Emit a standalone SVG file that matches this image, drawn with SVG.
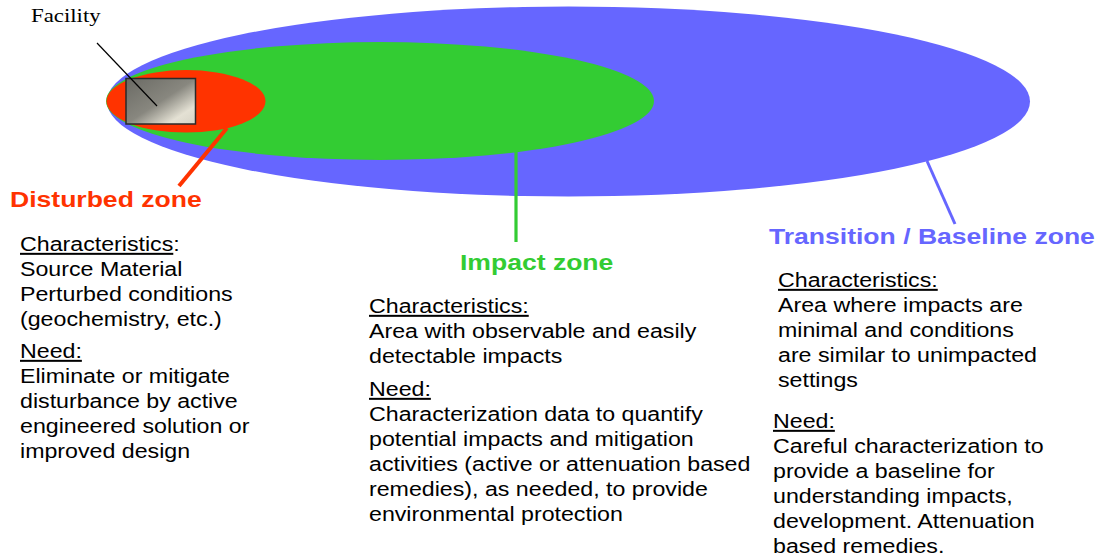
<svg xmlns="http://www.w3.org/2000/svg" width="1098" height="558" viewBox="0 0 1098 558">
<style>
.body{font-family:"Liberation Sans",Arial,sans-serif;font-size:20px;fill:#000}
.title{font-family:"Liberation Sans",Arial,sans-serif;font-size:22.5px;font-weight:bold}
.u{text-decoration:underline}
.lead{fill:none;stroke-linecap:butt}
</style>
<defs>
<linearGradient id="fac" x1="0" y1="0" x2="1" y2="1">
<stop offset="0" stop-color="#6a6a64"/>
<stop offset="0.5" stop-color="#88877f"/>
<stop offset="0.8" stop-color="#e4e1d4"/>
<stop offset="1" stop-color="#d6d3c6"/>
</linearGradient>
</defs>
<rect width="1098" height="558" fill="#fff"/>
<g id="transition-zone">
<ellipse cx="568.5" cy="101.5" rx="461.5" ry="95" fill="#6666ff"/>
</g>
<g id="impact-zone">
<ellipse cx="380" cy="101" rx="274" ry="59" fill="#33cc33"/>
</g>
<g id="disturbed-zone">
<ellipse cx="186" cy="101.3" rx="79.5" ry="31.3" fill="#ff3300"/>
</g>
<g id="facility">
<rect x="126" y="78.5" width="69.5" height="45.5" fill="url(#fac)" stroke="#2a2a2a" stroke-width="1.5"/>
<g transform="translate(31,22) scale(1.17,1)"><text x="0" y="0" font-family="'Liberation Serif','Times New Roman',serif" font-size="19.5" fill="#000">Facility</text></g>
</g>
<g id="connectors">
<line class="lead" x1="97" y1="43" x2="157" y2="106" stroke="#000" stroke-width="1.2"/>
<line class="lead" x1="227" y1="128" x2="179" y2="186" stroke="#ff3300" stroke-width="4"/>
<line class="lead" x1="516" y1="152" x2="516" y2="242" stroke="#33cc33" stroke-width="3.2"/>
<line class="lead" x1="927" y1="161" x2="955" y2="224" stroke="#6666ff" stroke-width="3"/>
</g>
<g id="disturbed-label">
<g transform="translate(10,207) scale(1.18,1)"><text class="title" x="0" y="0" fill="#ff3300">Disturbed zone</text></g>
<g transform="translate(20,0) scale(1.16,1)">
<text class="body" x="0" y="251"><tspan class="u">Characteristics</tspan>:</text>
<text class="body" x="0" y="276">Source Material</text>
<text class="body" x="0" y="301">Perturbed conditions</text>
<text class="body" x="0" y="326">(geochemistry, etc.)</text>
<text class="body u" x="0" y="358">Need:</text>
<text class="body" x="0" y="383">Eliminate or mitigate</text>
<text class="body" x="0" y="408">disturbance by active</text>
<text class="body" x="0" y="433">engineered solution or</text>
<text class="body" x="0" y="458">improved design</text>
</g>
</g>
<g id="impact-label">
<g transform="translate(460,270) scale(1.18,1)"><text class="title" x="0" y="0" fill="#33cc33">Impact zone</text></g>
<g transform="translate(369,0) scale(1.16,1)">
<text class="body u" x="0" y="313">Characteristics:</text>
<text class="body" x="0" y="338">Area with observable and easily</text>
<text class="body" x="0" y="363">detectable impacts</text>
<text class="body u" x="0" y="396">Need:</text>
<text class="body" x="0" y="421">Characterization data to quantify</text>
<text class="body" x="0" y="446">potential impacts and mitigation</text>
<text class="body" x="0" y="471">activities (active or attenuation based</text>
<text class="body" x="0" y="496">remedies), as needed, to provide</text>
<text class="body" x="0" y="521">environmental protection</text>
</g>
</g>
<g id="transition-label">
<g transform="translate(769,244) scale(1.18,1)"><text class="title" x="0" y="0" fill="#6666ff">Transition / Baseline zone</text></g>
<g transform="translate(778,0) scale(1.16,1)">
<text class="body u" x="0" y="287">Characteristics:</text>
<text class="body" x="0" y="312">Area where impacts are</text>
<text class="body" x="0" y="337">minimal and conditions</text>
<text class="body" x="0" y="362">are similar to unimpacted</text>
<text class="body" x="0" y="387">settings</text>
</g>
<g transform="translate(773,0) scale(1.16,1)">
<text class="body u" x="0" y="428">Need:</text>
<text class="body" x="0" y="453">Careful characterization to</text>
<text class="body" x="0" y="478">provide a baseline for</text>
<text class="body" x="0" y="503">understanding impacts,</text>
<text class="body" x="0" y="528">development. Attenuation</text>
<text class="body" x="0" y="553">based remedies.</text>
</g>
</g>
</svg>
